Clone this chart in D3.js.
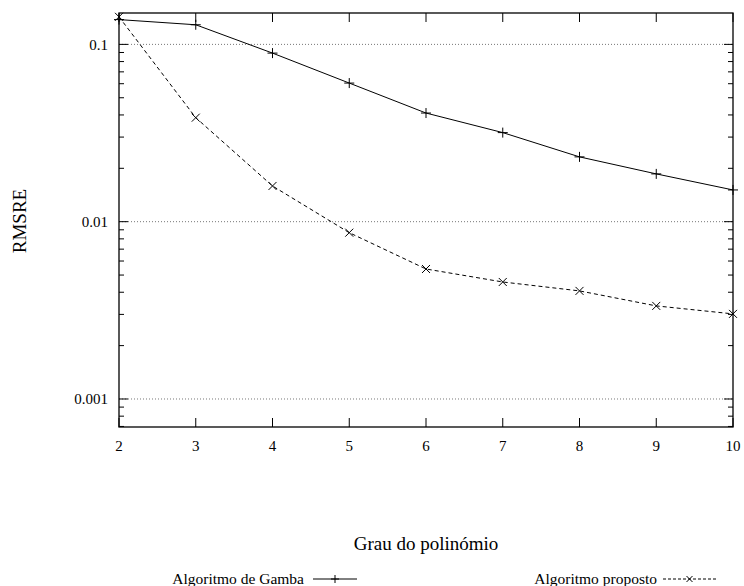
<!DOCTYPE html>
<html>
<head>
<meta charset="utf-8">
<script src="https://cdn.jsdelivr.net/npm/d3@7"></script>
<style>
  body { margin: 0; background: #fff; }
</style>
</head>
<body>
<svg id="chart" width="744" height="586"></svg>
<script>
const graus = [2, 3, 4, 5, 6, 7, 8, 9, 10];
const gamba = [0.138, 0.129, 0.0893, 0.0605, 0.041, 0.0318, 0.0232, 0.0186, 0.0151];
const proposto = [0.143, 0.0386, 0.0159, 0.00867, 0.00541, 0.00457, 0.00407, 0.00335, 0.00302];
const yTicks = [0.1, 0.01, 0.001];
const yTickLabels = ['0.1', '0.01', '0.001'];

const FONT = 'Liberation Serif';
const plotL = 119, plotR = 733, plotT = 13, plotB = 427;
const svg = d3.select('#chart');

const x = d3.scaleLinear().domain([2, 10]).range([plotL, plotR]);
const y = d3.scaleLog().domain([Math.pow(10, -3.158), Math.pow(10, -0.823)]).range([plotB, plotT]);

const label = (px, py, txt, size, anchor) => svg.append('text')
  .attr('x', px).attr('y', py).attr('dy', '0.35em')
  .attr('font-family', FONT).attr('font-size', size)
  .attr('text-anchor', anchor).attr('fill', '#000')
  .text(txt);

// grid
const gGrid = svg.append('g');
yTicks.forEach(t => {
  gGrid.append('line')
    .attr('x1', plotL).attr('x2', plotR)
    .attr('y1', y(t)).attr('y2', y(t))
    .attr('stroke', '#777')
    .attr('stroke-width', 1)
    .attr('stroke-dasharray', '1,2');
});

// minor ticks
const minor = [];
[0.0001, 0.001, 0.01, 0.1].forEach(d => {
  for (let k = 2; k <= 9; k++) {
    const v = d * k;
    if (v > y.domain()[0] && v < y.domain()[1]) minor.push(v);
  }
});

const gAx = svg.append('g').attr('stroke', '#000').attr('stroke-width', 1);
minor.forEach(v => {
  gAx.append('line').attr('x1', plotL).attr('x2', plotL + 5).attr('y1', y(v)).attr('y2', y(v));
  gAx.append('line').attr('x1', plotR).attr('x2', plotR - 5).attr('y1', y(v)).attr('y2', y(v));
});
yTicks.forEach(v => {
  gAx.append('line').attr('x1', plotL).attr('x2', plotL + 9).attr('y1', y(v)).attr('y2', y(v));
  gAx.append('line').attr('x1', plotR).attr('x2', plotR - 9).attr('y1', y(v)).attr('y2', y(v));
});
graus.forEach(g => {
  gAx.append('line').attr('x1', x(g)).attr('x2', x(g)).attr('y1', plotB).attr('y2', plotB - 9);
  gAx.append('line').attr('x1', x(g)).attr('x2', x(g)).attr('y1', plotT).attr('y2', plotT + 9);
});

// frame
svg.append('rect')
  .attr('x', plotL).attr('y', plotT)
  .attr('width', plotR - plotL).attr('height', plotB - plotT)
  .attr('fill', 'none').attr('stroke', '#000').attr('stroke-width', 1.3);

// tick labels
yTicks.forEach((t, i) => label(plotL - 11, y(t), yTickLabels[i], 15, 'end'));
graus.forEach(g => label(x(g), plotB + 19, g, 15, 'middle'));

// axis titles
svg.append('text')
  .attr('transform', `translate(19,221) rotate(-90)`)
  .attr('dy', '0.35em')
  .attr('font-family', FONT).attr('font-size', 19)
  .attr('text-anchor', 'middle').attr('fill', '#000')
  .text('RMSRE');
label((plotL + plotR) / 2, 543, 'Grau do polinómio', 19, 'middle');

// series
const line = d3.line().x((d, i) => x(graus[i])).y(d => y(d));
svg.append('path').datum(gamba)
  .attr('d', line).attr('fill', 'none').attr('stroke', '#000').attr('stroke-width', 1);
svg.append('path').datum(proposto)
  .attr('d', line).attr('fill', 'none').attr('stroke', '#000').attr('stroke-width', 1)
  .attr('stroke-dasharray', '4,3');

const plus = (g, cx, cy, s) => {
  g.append('path').attr('d', `M${cx - s},${cy}H${cx + s}M${cx},${cy - s}V${cy + s}`)
    .attr('stroke', '#000').attr('stroke-width', 1).attr('fill', 'none');
};
const cross = (g, cx, cy, s) => {
  g.append('path').attr('d', `M${cx - s},${cy - s}L${cx + s},${cy + s}M${cx - s},${cy + s}L${cx + s},${cy - s}`)
    .attr('stroke', '#000').attr('stroke-width', 1).attr('fill', 'none');
};
const gM = svg.append('g');
gamba.forEach((v, i) => plus(gM, x(graus[i]), y(v), 5));
proposto.forEach((v, i) => cross(gM, x(graus[i]), y(v), 4));

// legend
const legY = 579;
label(304, legY, 'Algoritmo de Gamba', 15.5, 'end');
svg.append('line').attr('x1', 313).attr('x2', 357).attr('y1', legY).attr('y2', legY)
  .attr('stroke', '#000').attr('stroke-width', 1);
plus(svg, 335, legY, 4);

label(657, legY, 'Algoritmo proposto', 15.5, 'end');
svg.append('line').attr('x1', 663).attr('x2', 716).attr('y1', legY).attr('y2', legY)
  .attr('stroke', '#000').attr('stroke-width', 1).attr('stroke-dasharray', '3,2');
cross(svg, 689.5, legY, 3);
</script>
</body>
</html>
